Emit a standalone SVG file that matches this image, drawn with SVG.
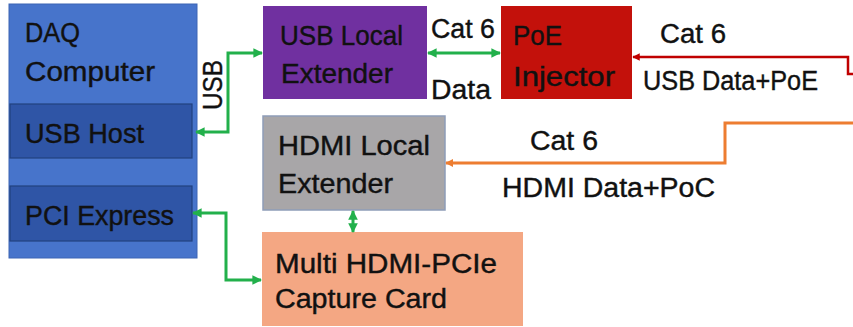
<svg xmlns="http://www.w3.org/2000/svg" width="853" height="327" viewBox="0 0 853 327">
<defs>
<style>
.t{font-family:"Liberation Sans",Arial,sans-serif;font-size:27px;fill:#111;stroke:#111;stroke-width:0.4;}
.g{fill:none;stroke:#22B04B;stroke-width:3;}
</style>
<marker id="ag" viewBox="0 0 10 10" refX="9" refY="5" markerWidth="3.2" markerHeight="3.2" orient="auto-start-reverse" markerUnits="strokeWidth"><path d="M0,0 L10,5 L0,10 z" fill="#22B04B"/></marker>
<marker id="ar" viewBox="0 0 10 10" refX="9" refY="5" markerWidth="3.5" markerHeight="3" orient="auto" markerUnits="strokeWidth"><path d="M0,0 L10,5 L0,10 z" fill="#C00000"/></marker>
<marker id="ao" viewBox="0 0 10 10" refX="9" refY="5" markerWidth="3" markerHeight="2.6" orient="auto" markerUnits="strokeWidth"><path d="M0,0 L10,5 L0,10 z" fill="#ED7D31"/></marker>
</defs>
<rect width="853" height="327" fill="#fff"/>

<g id="daq">
<rect x="9" y="4" width="188" height="254" fill="#4774CB" stroke="#3c64b4" stroke-width="1"/>
<text class="t" x="25" y="42" textLength="55" lengthAdjust="spacingAndGlyphs">DAQ</text>
<text class="t" x="25" y="81" textLength="130" lengthAdjust="spacingAndGlyphs">Computer</text>
</g>
<g id="usbhost">
<rect x="10" y="104" width="182" height="54" fill="#2F55A6" stroke="#22417f" stroke-width="1.2"/>
<text class="t" x="25" y="143" textLength="119" lengthAdjust="spacingAndGlyphs">USB Host</text>
</g>
<g id="pci">
<rect x="10" y="186" width="182" height="55" fill="#2F55A6" stroke="#22417f" stroke-width="1.2"/>
<text class="t" x="25" y="225" textLength="149" lengthAdjust="spacingAndGlyphs">PCI Express</text>
</g>
<g id="usbext">
<rect x="263" y="6" width="164" height="93" fill="#7030A0"/>
<text class="t" x="280" y="45" textLength="123" lengthAdjust="spacingAndGlyphs">USB Local</text>
<text class="t" x="281" y="83" textLength="112" lengthAdjust="spacingAndGlyphs">Extender</text>
</g>
<g id="poe">
<rect x="501" y="6" width="131" height="93" fill="#C3110B"/>
<text class="t" x="513" y="45" textLength="49" lengthAdjust="spacingAndGlyphs">PoE</text>
<text class="t" x="513" y="86" textLength="102" lengthAdjust="spacingAndGlyphs">Injector</text>
</g>
<g id="hdmiext">
<rect x="263" y="116" width="182" height="94" fill="#A8A6A8" stroke="#8E9DB8" stroke-width="1.5"/>
<text class="t" x="278" y="155" textLength="152" lengthAdjust="spacingAndGlyphs">HDMI Local</text>
<text class="t" x="278" y="193" textLength="115" lengthAdjust="spacingAndGlyphs">Extender</text>
</g>
<g id="capture">
<rect x="262" y="232" width="261" height="94" fill="#F4A783"/>
<text class="t" x="275" y="273" textLength="222" lengthAdjust="spacingAndGlyphs">Multi HDMI-PCIe</text>
<text class="t" x="275" y="308" textLength="172" lengthAdjust="spacingAndGlyphs">Capture Card</text>
</g>

<g id="connectors">
<path class="g" d="M196,132 L228,132 L228,53 L262,53" marker-start="url(#ag)" marker-end="url(#ag)"/>
<path class="g" d="M428,53 L500,53" marker-start="url(#ag)" marker-end="url(#ag)"/>
<path class="g" d="M193,213 L226,213 L226,280 L261,280" marker-start="url(#ag)" marker-end="url(#ag)"/>
<path class="g" d="M353,211 L353,232" marker-start="url(#ag)" marker-end="url(#ag)"/>
<path d="M853,74 L848,74 L848,57 L633,57" fill="none" stroke="#C00000" stroke-width="2.5" marker-end="url(#ar)"/>
<path d="M853,123 L725,123 L725,163 L446,163" fill="none" stroke="#ED7D31" stroke-width="3" marker-end="url(#ao)"/>
<text class="t" transform="translate(222,85) rotate(-90)" x="0" y="0" text-anchor="middle" textLength="50" lengthAdjust="spacingAndGlyphs">USB</text>
<text class="t" x="431" y="38" textLength="64" lengthAdjust="spacingAndGlyphs">Cat 6</text>
<text class="t" x="431" y="99" textLength="60" lengthAdjust="spacingAndGlyphs">Data</text>
<text class="t" x="660" y="43" textLength="66" lengthAdjust="spacingAndGlyphs">Cat 6</text>
<text class="t" x="643" y="90" textLength="175" lengthAdjust="spacingAndGlyphs">USB Data+PoE</text>
<text class="t" x="530" y="150" textLength="68" lengthAdjust="spacingAndGlyphs">Cat 6</text>
<text class="t" x="502" y="197" textLength="213" lengthAdjust="spacingAndGlyphs">HDMI Data+PoC</text>
</g>
</svg>
